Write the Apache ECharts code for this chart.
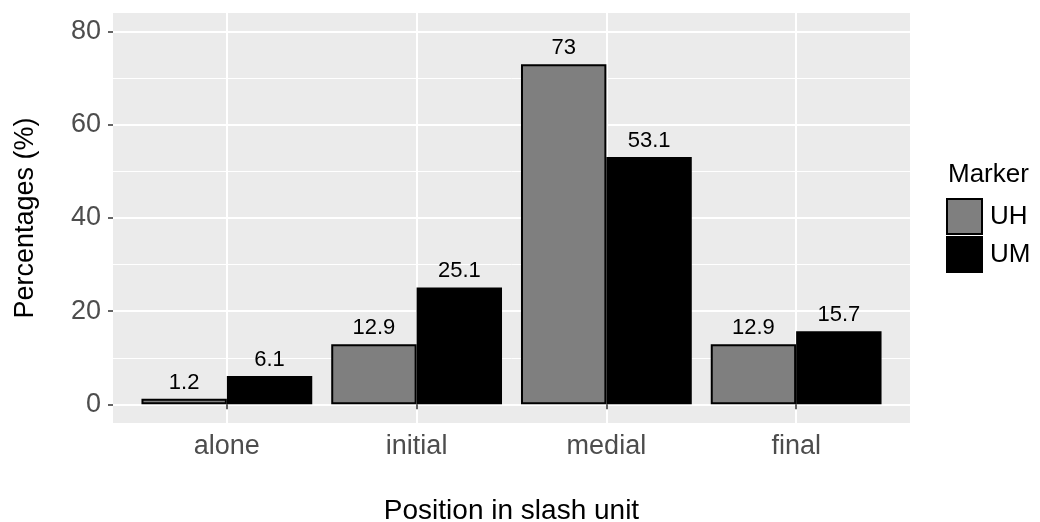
<!DOCTYPE html>
<html>
<head>
<meta charset="utf-8">
<script src="https://cdn.jsdelivr.net/npm/echarts@6/dist/echarts.min.js"></script>
<style>html,body{margin:0;padding:0;background:#fff}#c{width:1040px;height:522px}</style>
</head>
<body>
<div id="c"></div>
<script>
const categories = ['alone', 'initial', 'medial', 'final'];
const seriesNames = ['UH', 'UM'];
const uhValues = [1.2, 12.9, 73, 12.9];
const umValues = [6.1, 25.1, 53.1, 15.7];
const yMajorTicks = [0, 20, 40, 60, 80];
const yMinorTicks = [10, 30, 50, 70];

const FONT = '"Liberation Sans", Arial, Helvetica, sans-serif';
const chart = echarts.init(document.getElementById('c'), null, {renderer: 'canvas'});
const catPos = categories.map((c, i) => i + 1);

function barSeries(name, values, color) {
  return {
    name: name,
    type: 'bar',
    xAxisIndex: 0,
    yAxisIndex: 0,
    barWidth: '45%',
    barGap: '0%',
    data: values.map((v, i) => [catPos[i], v]),
    itemStyle: {color: color, borderColor: '#000', borderWidth: 2},
    label: {
      show: true, position: 'top', distance: 5,
      formatter: p => String(p.value[1]),
      fontFamily: FONT, fontSize: 22, color: '#000'
    },
    emphasis: {disabled: true},
    animation: false
  };
}

chart.setOption({
  animation: false,
  backgroundColor: '#fff',
  title: {
    text: 'Marker', left: 943, top: 157,
    textStyle: {fontFamily: FONT, fontSize: 26, fontWeight: 'normal', color: '#000'}
  },
  legend: {
    data: seriesNames, orient: 'vertical', left: 941, top: 193,
    itemWidth: 35, itemHeight: 35, itemGap: 1, icon: 'rect',
    itemStyle: {borderColor: '#000', borderWidth: 2},
    textStyle: {fontFamily: FONT, fontSize: 26, color: '#000', padding: [0, 0, 0, 3]},
    selectedMode: false
  },
  grid: {
    left: 113, top: 13, right: 130, bottom: 99,
    containLabel: false, outerBoundsMode: 'none',
    show: true, backgroundColor: '#EBEBEB', borderWidth: 0
  },
  xAxis: [{
    type: 'value', min: 0.4, max: 4.6,
    name: 'Position in slash unit', nameLocation: 'middle', nameGap: 74,
    nameTextStyle: {fontFamily: FONT, fontSize: 28, color: '#000'},
    axisLine: {show: false},
    axisTick: {show: true, customValues: catPos, length: 5, lineStyle: {color: '#333', width: 1.5}},
    axisLabel: {
      customValues: catPos, margin: 10,
      formatter: v => categories[Math.round(v) - 1] || '',
      fontFamily: FONT, fontSize: 27, color: '#4D4D4D'
    },
    splitLine: {show: true, lineStyle: {color: '#fff', width: 2}}
  }],
  yAxis: [{
    type: 'value', min: -4, max: 84, position: 'left',
    name: 'Percentages (%)', nameLocation: 'middle', nameGap: 74, nameRotate: 90,
    nameTextStyle: {fontFamily: FONT, fontSize: 27, color: '#000'},
    axisLine: {show: false},
    axisTick: {show: true, customValues: yMajorTicks, length: 5, lineStyle: {color: '#333', width: 1.5}},
    axisLabel: {customValues: yMajorTicks, margin: 12, fontFamily: FONT, fontSize: 27, color: '#4D4D4D'},
    splitLine: {show: true, lineStyle: {color: '#fff', width: 2}}
  }, {
    type: 'value', min: -4, max: 84, position: 'left',
    axisLine: {show: false},
    axisTick: {show: false, customValues: yMinorTicks},
    axisLabel: {show: false, customValues: yMinorTicks},
    splitLine: {show: true, lineStyle: {color: '#fff', width: 1}}
  }],
  series: [
    barSeries(seriesNames[0], uhValues, '#7F7F7F'),
    barSeries(seriesNames[1], umValues, '#000000')
  ]
});
</script>
</body>
</html>
